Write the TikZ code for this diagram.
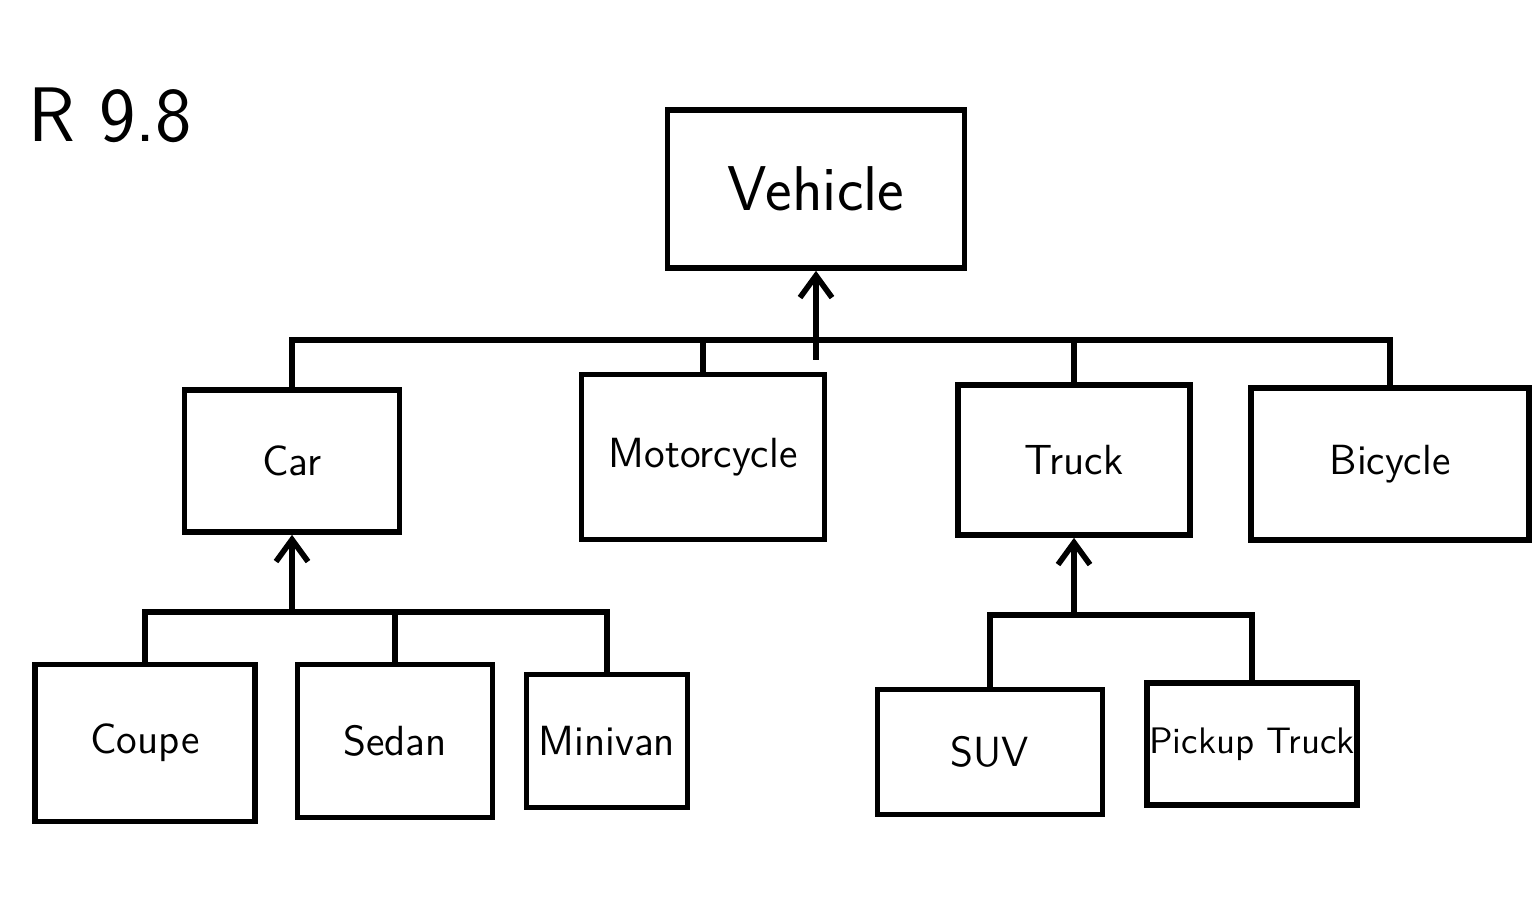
\documentclass[tikz,border=0pt]{standalone}
\usetikzlibrary{arrows.meta}

\tikzset{
	cls/.style={draw, line width=1.6pt, inner sep=0pt, font=\sffamily\fontsize{12}{14}\selectfont},
	link/.style={line width=1.6pt},
}

\begin{document}
\begin{tikzpicture}[>={Straight Barb[length=2.2mm,width=3.2mm]}]
		\useasboundingbox (0,0) rectangle (15.35,9);

		% Title
		\node[font=\sffamily\fontsize{22}{24}\selectfont] (title) at (1.10,7.85) {R 9.8};

		% Draw classes
		\node[cls, minimum width=2.97cm, minimum height=1.58cm, font=\sffamily\fontsize{18}{20}\selectfont] (vehicle) at (8.16,7.11) {Vehicle};
		\node[cls, minimum width=2.15cm, minimum height=1.42cm] (car) at (2.92,4.39) {Car};
		\node[cls, minimum width=2.43cm, minimum height=1.65cm] (motorcycle) at (7.03,4.43) {Motorcycle};
		\node[cls, minimum width=2.32cm, minimum height=1.50cm] (truck) at (10.74,4.40) {Truck};
		\node[cls, minimum width=2.78cm, minimum height=1.52cm] (bicycle) at (13.90,4.36) {Bicycle};
		\node[cls, minimum width=2.20cm, minimum height=1.57cm] (coupe) at (1.45,1.57) {Coupe};
		\node[cls, minimum width=1.95cm, minimum height=1.53cm] (sedan) at (3.95,1.59) {Sedan};
		\node[cls, minimum width=1.61cm, minimum height=1.33cm] (minivan) at (6.07,1.59) {Minivan};
		\node[cls, minimum width=2.25cm, minimum height=1.25cm] (suv) at (9.90,1.48) {SUV};
		\node[cls, minimum width=2.10cm, minimum height=1.22cm, font=\sffamily\fontsize{10.5}{12}\selectfont] (pickup) at (12.52,1.56) {Pickup Truck};

		% Draw buses
		\coordinate (topbus) at (vehicle.south |- 0,5.60);
		\coordinate (carbus) at (car.south |- 0,2.88);
		\coordinate (truckbus) at (truck.south |- 0,2.85);

		\draw[link] (car.north) |- (topbus) -| (bicycle.north);
		\draw[link] (motorcycle.north) -- (motorcycle.north |- topbus);
		\draw[link] (truck.north) -- (truck.north |- topbus);
		\draw[link, ->] ([yshift=-2mm]topbus) -- (vehicle.south);

		\draw[link] (coupe.north) |- (carbus) -| (minivan.north);
		\draw[link] (sedan.north) -- (sedan.north |- carbus);
		\draw[link, ->] (carbus) -- (car.south);

		\draw[link] (suv.north) |- (truckbus) -| (pickup.north);
		\draw[link, ->] (truckbus) -- (truck.south);
	\end{tikzpicture}
\end{document}
